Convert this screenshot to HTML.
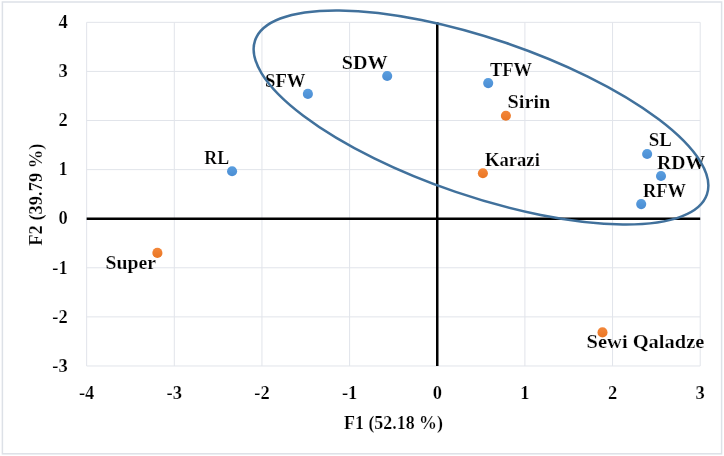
<!DOCTYPE html>
<html><head><meta charset="utf-8"><style>
html,body{margin:0;padding:0;background:#fff;}
svg{display:block;will-change:transform;}
text{font-family:"Liberation Serif",serif;font-weight:bold;fill:#000;stroke:#fff;stroke-width:0.2px;paint-order:fill;}
</style></head><body>
<svg width="724" height="456" viewBox="0 0 724 456">
<defs>
<linearGradient id="gb" x1="0" y1="0" x2="0" y2="1"><stop offset="0" stop-color="#5A9EDF"/><stop offset="1" stop-color="#4B8DD3"/></linearGradient>
<linearGradient id="go" x1="0" y1="0" x2="0" y2="1"><stop offset="0" stop-color="#F3873A"/><stop offset="1" stop-color="#EA7624"/></linearGradient>
</defs>
<rect x="0" y="0" width="724" height="456" fill="#fff"/>
<rect x="2.4" y="2.0" width="719.2" height="451.8" fill="none" stroke="#DDE1E7" stroke-width="1.5"/>

<line x1="86.65" y1="22.34" x2="86.65" y2="365.97" stroke="#E1E4EA" stroke-width="1"/>
<line x1="174.30" y1="22.34" x2="174.30" y2="365.97" stroke="#E1E4EA" stroke-width="1"/>
<line x1="261.95" y1="22.34" x2="261.95" y2="365.97" stroke="#E1E4EA" stroke-width="1"/>
<line x1="349.60" y1="22.34" x2="349.60" y2="365.97" stroke="#E1E4EA" stroke-width="1"/>
<line x1="437.25" y1="22.34" x2="437.25" y2="365.97" stroke="#E1E4EA" stroke-width="1"/>
<line x1="524.90" y1="22.34" x2="524.90" y2="365.97" stroke="#E1E4EA" stroke-width="1"/>
<line x1="612.55" y1="22.34" x2="612.55" y2="365.97" stroke="#E1E4EA" stroke-width="1"/>
<line x1="700.20" y1="22.34" x2="700.20" y2="365.97" stroke="#E1E4EA" stroke-width="1"/>
<line x1="86.65" y1="365.97" x2="700.20" y2="365.97" stroke="#E1E4EA" stroke-width="1"/>
<line x1="86.65" y1="316.88" x2="700.20" y2="316.88" stroke="#E1E4EA" stroke-width="1"/>
<line x1="86.65" y1="267.79" x2="700.20" y2="267.79" stroke="#E1E4EA" stroke-width="1"/>
<line x1="86.65" y1="218.70" x2="700.20" y2="218.70" stroke="#E1E4EA" stroke-width="1"/>
<line x1="86.65" y1="169.61" x2="700.20" y2="169.61" stroke="#E1E4EA" stroke-width="1"/>
<line x1="86.65" y1="120.52" x2="700.20" y2="120.52" stroke="#E1E4EA" stroke-width="1"/>
<line x1="86.65" y1="71.43" x2="700.20" y2="71.43" stroke="#E1E4EA" stroke-width="1"/>
<line x1="86.65" y1="22.34" x2="700.20" y2="22.34" stroke="#E1E4EA" stroke-width="1"/>
<line x1="86.65" y1="218.7" x2="700.20" y2="218.7" stroke="#000" stroke-width="2.5"/>
<line x1="437.25" y1="22.34" x2="437.25" y2="365.97" stroke="#000" stroke-width="2.5"/>
<text x="86.65" y="398.60" font-size="18.5" text-anchor="middle">-4</text>
<text x="174.30" y="398.60" font-size="18.5" text-anchor="middle">-3</text>
<text x="261.95" y="398.60" font-size="18.5" text-anchor="middle">-2</text>
<text x="349.60" y="398.60" font-size="18.5" text-anchor="middle">-1</text>
<text x="437.25" y="398.60" font-size="18.5" text-anchor="middle">0</text>
<text x="524.90" y="398.60" font-size="18.5" text-anchor="middle">1</text>
<text x="612.55" y="398.60" font-size="18.5" text-anchor="middle">2</text>
<text x="700.20" y="398.60" font-size="18.5" text-anchor="middle">3</text>
<text x="67.7" y="371.8" font-size="18.5" text-anchor="end">-3</text>
<text x="67.7" y="322.8" font-size="18.5" text-anchor="end">-2</text>
<text x="67.7" y="273.7" font-size="18.5" text-anchor="end">-1</text>
<text x="67.7" y="224" font-size="18.5" text-anchor="end">0</text>
<text x="67.7" y="175" font-size="18.5" text-anchor="end">1</text>
<text x="67.7" y="126" font-size="18.5" text-anchor="end">2</text>
<text x="67.7" y="77" font-size="18.5" text-anchor="end">3</text>
<text x="67.7" y="28" font-size="18.5" text-anchor="end">4</text>
<text x="204.30" y="163.80" font-size="18.5" textLength="24.80" lengthAdjust="spacingAndGlyphs">RL</text>
<text x="265.10" y="86.60" font-size="18.5" textLength="40.40" lengthAdjust="spacingAndGlyphs">SFW</text>
<text x="341.80" y="69.00" font-size="18.5" textLength="45.90" lengthAdjust="spacingAndGlyphs">SDW</text>
<text x="489.90" y="76.00" font-size="18.5" textLength="42.00" lengthAdjust="spacingAndGlyphs">TFW</text>
<text x="507.50" y="108.40" font-size="18.5" textLength="42.90" lengthAdjust="spacingAndGlyphs">Sirin</text>
<text x="485.00" y="165.60" font-size="18.5" textLength="54.80" lengthAdjust="spacingAndGlyphs">Karazi</text>
<text x="648.80" y="146.30" font-size="18.5" textLength="23.10" lengthAdjust="spacingAndGlyphs">SL</text>
<text x="657.10" y="168.60" font-size="18.5" textLength="48.20" lengthAdjust="spacingAndGlyphs">RDW</text>
<text x="642.90" y="197.00" font-size="18.5" textLength="43.00" lengthAdjust="spacingAndGlyphs">RFW</text>
<text x="105.60" y="268.50" font-size="18.5" textLength="50.50" lengthAdjust="spacingAndGlyphs">Super</text>
<text x="586.60" y="347.50" font-size="18.5" textLength="117.80" lengthAdjust="spacingAndGlyphs">Sewi Qaladze</text>
<circle cx="232.07" cy="171.25" r="5.05" fill="url(#gb)"/>
<circle cx="307.9" cy="93.9" r="5.05" fill="url(#gb)"/>
<circle cx="387.2" cy="76.05" r="5.05" fill="url(#gb)"/>
<circle cx="488.2" cy="83.1" r="5.05" fill="url(#gb)"/>
<circle cx="505.9" cy="115.7" r="5.05" fill="url(#go)"/>
<circle cx="482.9" cy="173.25" r="5.05" fill="url(#go)"/>
<circle cx="647.15" cy="154.0" r="5.05" fill="url(#gb)"/>
<circle cx="661.0" cy="176.0" r="5.05" fill="url(#gb)"/>
<circle cx="641.2" cy="204.1" r="5.05" fill="url(#gb)"/>
<circle cx="157.4" cy="252.9" r="5.05" fill="url(#go)"/>
<circle cx="602.5" cy="332.4" r="5.05" fill="url(#go)"/>
<ellipse cx="481.0" cy="117.45" rx="238.69" ry="78.63" transform="rotate(18.807 481.0 117.45)" fill="none" stroke="#41719C" stroke-width="2.5"/>
<text x="344" y="428.9" font-size="18.5" textLength="99" lengthAdjust="spacingAndGlyphs">F1 (52.18 %)</text>
<text transform="translate(41.9,194.6) rotate(-90)" x="0" y="0" font-size="18.5" text-anchor="middle">F2 (39.79 %)</text>
</svg></body></html>
